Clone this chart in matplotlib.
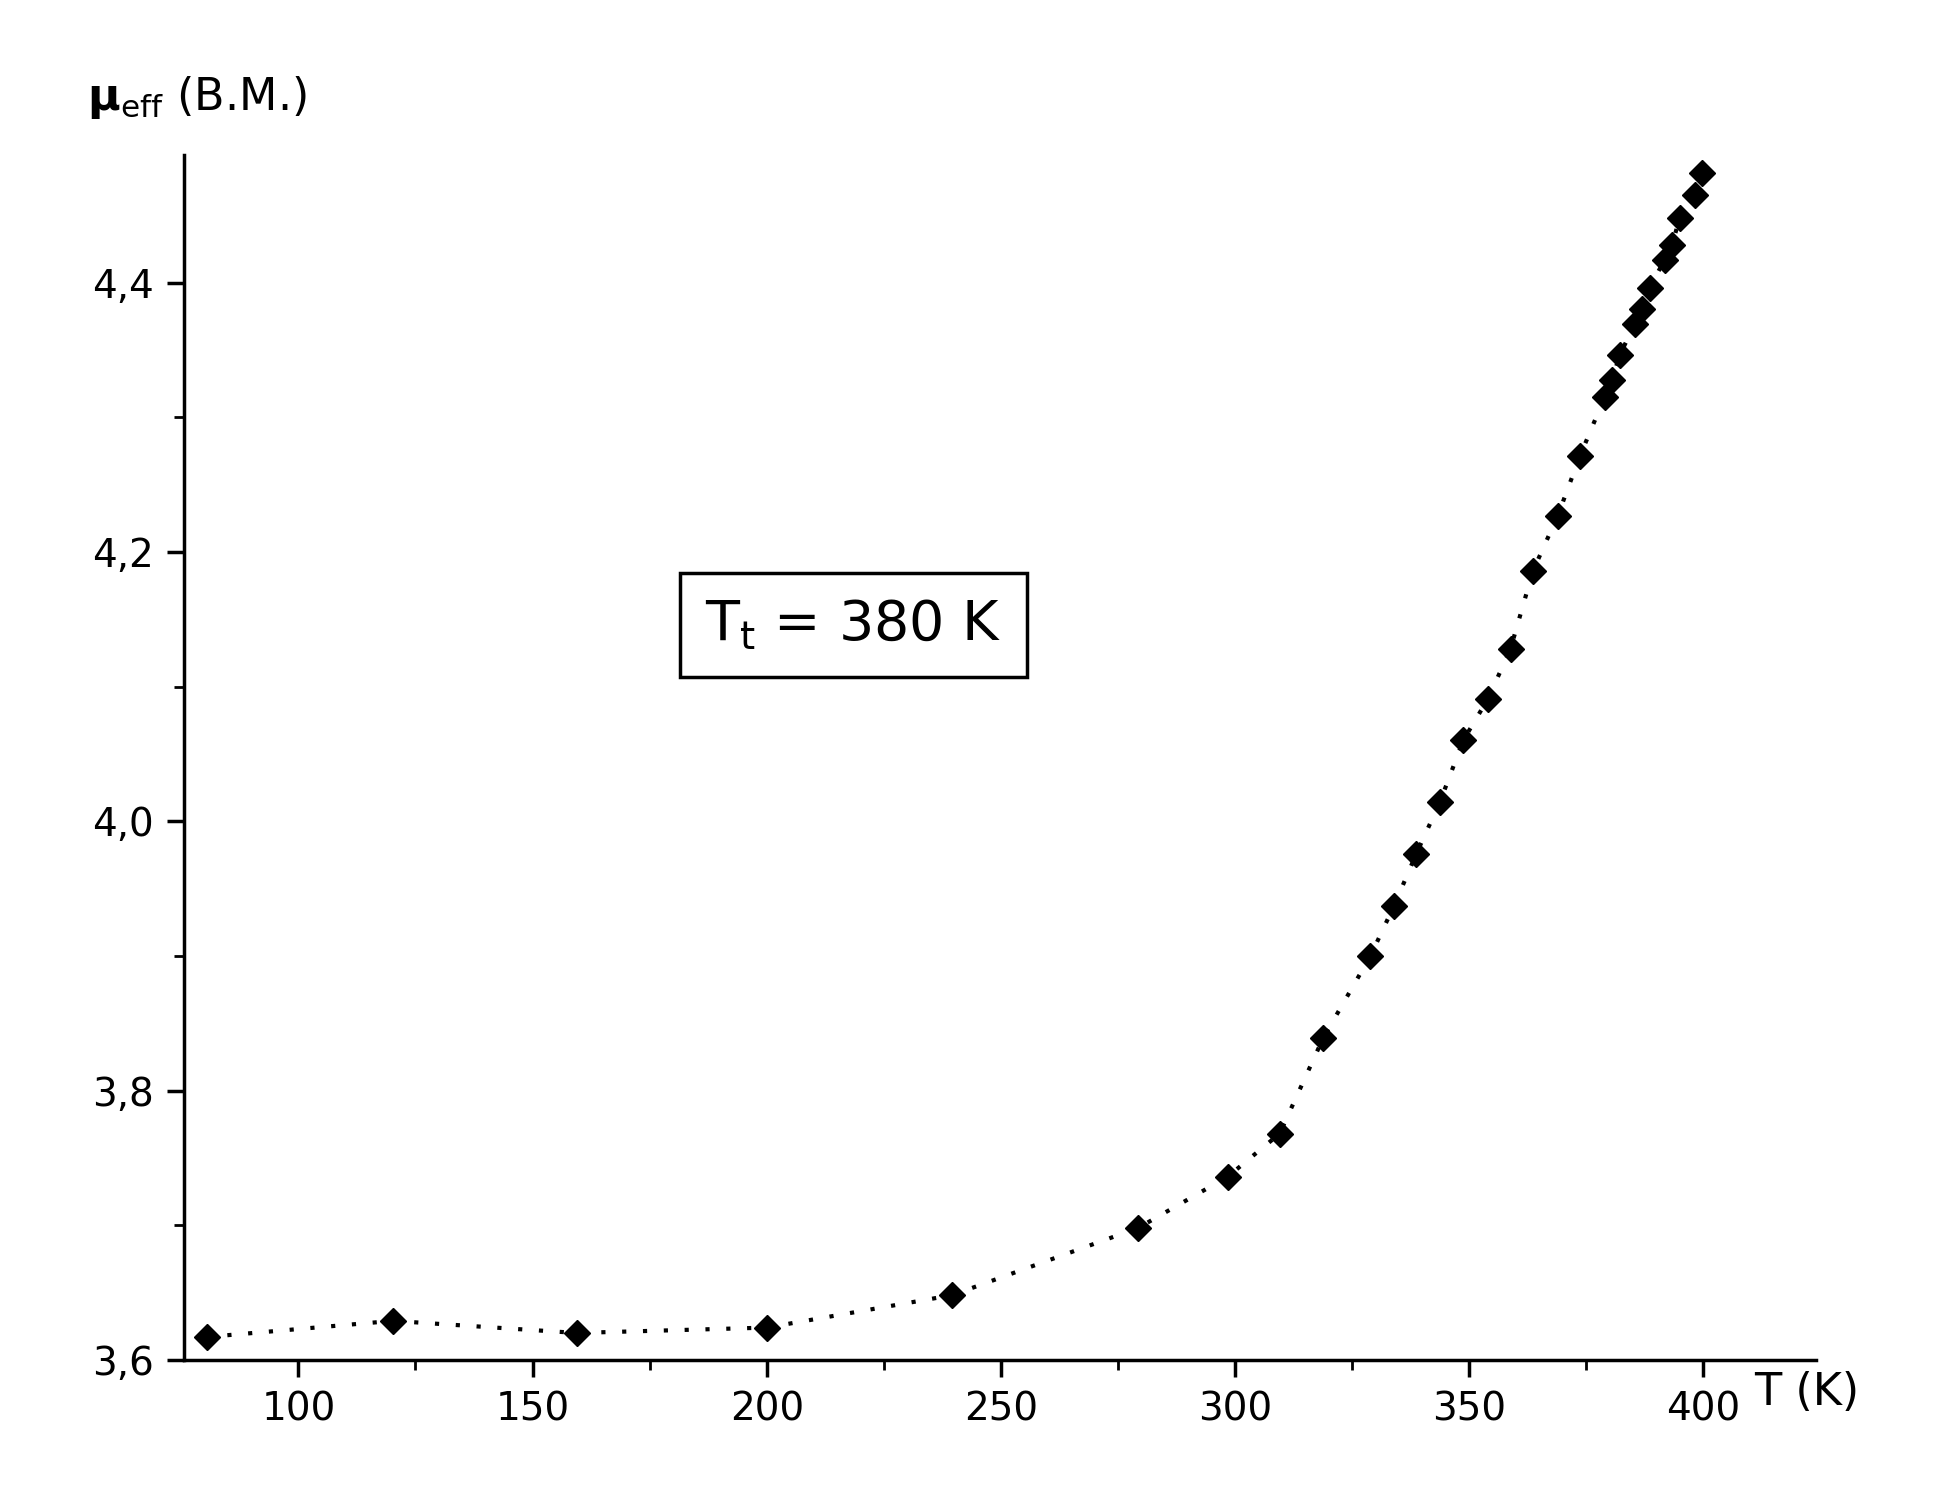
import matplotlib
matplotlib.use("Agg")
import matplotlib.pyplot as plt
from matplotlib.ticker import MultipleLocator, FuncFormatter

T = [80.4, 120.2, 159.4, 200, 239.5, 279.3, 298.4, 309.5, 318.8, 328.9, 333.9, 338.7,
     343.7, 348.7, 354, 358.8, 363.6, 368.9, 373.6, 378.9, 380.5, 382.1, 385.3, 386.9,
     388.5, 391.7, 393.3, 394.9, 398.1, 399.7]
mu = [3.617, 3.629, 3.620, 3.624, 3.648, 3.698, 3.736, 3.768, 3.839, 3.900, 3.937, 3.976,
      4.014, 4.060, 4.091, 4.128, 4.186, 4.227, 4.271, 4.315, 4.328, 4.346, 4.369, 4.380,
      4.396, 4.417, 4.428, 4.448, 4.465, 4.481]

fig = plt.figure(figsize=(19.38, 15.01), dpi=100)
ax = fig.add_axes([0.095, 0.094, 0.842, 0.803])
ax.plot(T, mu, ls=(0, (1, 4)), lw=3, color='black', marker='D', ms=13, mfc='black', mec='black')
ax.set_xlim(75.6, 424)
ax.set_ylim(3.6, 4.495)
ax.spines['top'].set_visible(False)
ax.spines['right'].set_visible(False)
for s in ('left', 'bottom'):
    ax.spines[s].set_linewidth(2.5)
ax.xaxis.set_major_locator(MultipleLocator(50))
ax.xaxis.set_minor_locator(MultipleLocator(25))
ax.yaxis.set_major_locator(MultipleLocator(0.2))
ax.yaxis.set_minor_locator(MultipleLocator(0.1))
ax.yaxis.set_major_formatter(FuncFormatter(lambda v, p: f"{v:.1f}".replace('.', ',')))
ax.tick_params(which='major', direction='out', length=12, width=2.5, labelsize=28, pad=10)
ax.tick_params(which='minor', direction='out', length=7, width=2)
ax.set_xticks([100, 150, 200, 250, 300, 350, 400])
ax.text(218.5, 4.146, r"T$_{\mathregular{t}}$ = 380 K", fontsize=40, ha='center', va='center',
        bbox=dict(boxstyle='square,pad=0.45', fc='white', ec='black', lw=2.5))
fig.text(0.045, 0.935, r"$\mathbf{\mu}_{\mathregular{eff}}$ (B.M.)", fontsize=32, ha='left', va='center')
fig.text(0.905, 0.072, "T (K)", fontsize=32, ha='left', va='center')
fig.savefig("out.png", dpi=100)
